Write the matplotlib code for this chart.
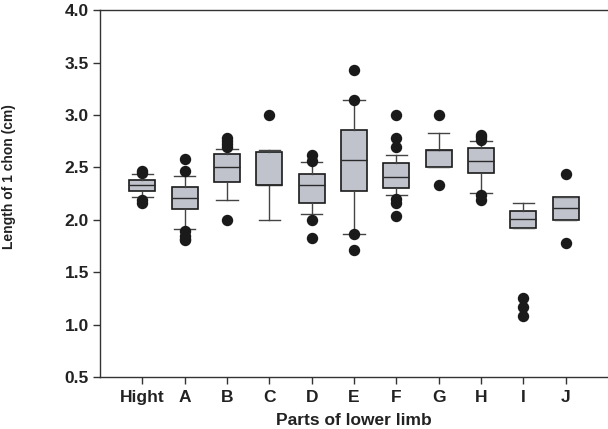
import matplotlib
matplotlib.use('Agg')
import matplotlib.pyplot as plt

plt.rcParams['font.family'] = ['Liberation Sans', 'DejaVu Sans']

categories = ['Hight', 'A', 'B', 'C', 'D', 'E', 'F', 'G', 'H', 'I', 'J']
q1 = [2.28, 2.10, 2.36, 2.335, 2.165, 2.28, 2.305, 2.50, 2.445, 1.925, 2.00]
med = [2.33, 2.21, 2.50, 2.335, 2.335, 2.57, 2.405, 2.67, 2.565, 2.005, 2.11]
q3 = [2.385, 2.31, 2.63, 2.645, 2.435, 2.855, 2.54, 2.67, 2.69, 2.085, 2.22]
whislo = [2.22, 1.91, 2.19, 2.00, 2.06, 1.87, 2.235, 2.50, 2.26, 1.925, 2.00]
whishi = [2.44, 2.42, 2.68, 2.665, 2.55, 3.14, 2.615, 2.83, 2.755, 2.165, 2.22]
fliers = [
    [2.47, 2.45, 2.19, 2.16],
    [2.58, 2.47, 1.89, 1.85, 1.82, 1.81],
    [2.78, 2.75, 2.72, 2.70, 2.00],
    [3.00],
    [2.62, 2.56, 2.00, 1.83],
    [3.43, 3.14, 1.87, 1.71],
    [3.00, 2.78, 2.70, 2.20, 2.16, 2.04],
    [3.00, 2.33],
    [2.81, 2.79, 2.76, 2.24, 2.19],
    [1.25, 1.17, 1.08],
    [2.44, 1.78],
]

stats = []
for i, name in enumerate(categories):
    stats.append({'label': name, 'q1': q1[i], 'med': med[i], 'q3': q3[i],
                  'whislo': whislo[i], 'whishi': whishi[i], 'fliers': fliers[i]})

fig = plt.figure(figsize=(6.08, 4.29), dpi=100)
ax = fig.add_axes([0.1645, 0.121, 0.8355, 0.855])

positions = range(1, len(categories) + 1)
ax.bxp(stats, positions=positions, widths=0.62, capwidths=0.5, patch_artist=True,
       boxprops=dict(facecolor='#c0c3cc', edgecolor='#1a1a1a', linewidth=1.2),
       medianprops=dict(color='#2a2a2a', linewidth=1.0),
       whiskerprops=dict(color='#444444', linewidth=1.0),
       capprops=dict(color='#444444', linewidth=1.0),
       flierprops=dict(marker='o', markerfacecolor='#1a1a1a', markeredgecolor='#1a1a1a',
                       markersize=7.2))

ax.set_xlim(0, 12)
ax.set_ylim(0.5, 4.0)
ax.set_yticks([0.5, 1.0, 1.5, 2.0, 2.5, 3.0, 3.5, 4.0])
ax.set_yticklabels(['0.5', '1.0', '1.5', '2.0', '2.5', '3.0', '3.5', '4.0'])
ax.set_xticks(list(positions))
ax.set_xticklabels(categories)

ax.spines['right'].set_visible(False)
for s in ['top', 'left', 'bottom']:
    ax.spines[s].set_color('#333333')
    ax.spines[s].set_linewidth(1.0)

ax.tick_params(axis='both', direction='out', length=5, width=1, color='#333333',
               labelsize=12.5, labelcolor='#222222')
ax.tick_params(axis='y', pad=3)
ax.tick_params(axis='x', pad=4)
for lbl in ax.get_xticklabels() + ax.get_yticklabels():
    lbl.set_fontweight('bold')

ax.set_xlabel('Parts of lower limb', fontsize=12.5, fontweight='bold', color='#222222',
              labelpad=6)
ax.set_ylabel('Length of 1 chon (cm)', fontsize=10, fontweight='bold', color='#222222')
ax.yaxis.set_label_coords(-0.165, 0.548)

fig.savefig('out.png', dpi=100)
